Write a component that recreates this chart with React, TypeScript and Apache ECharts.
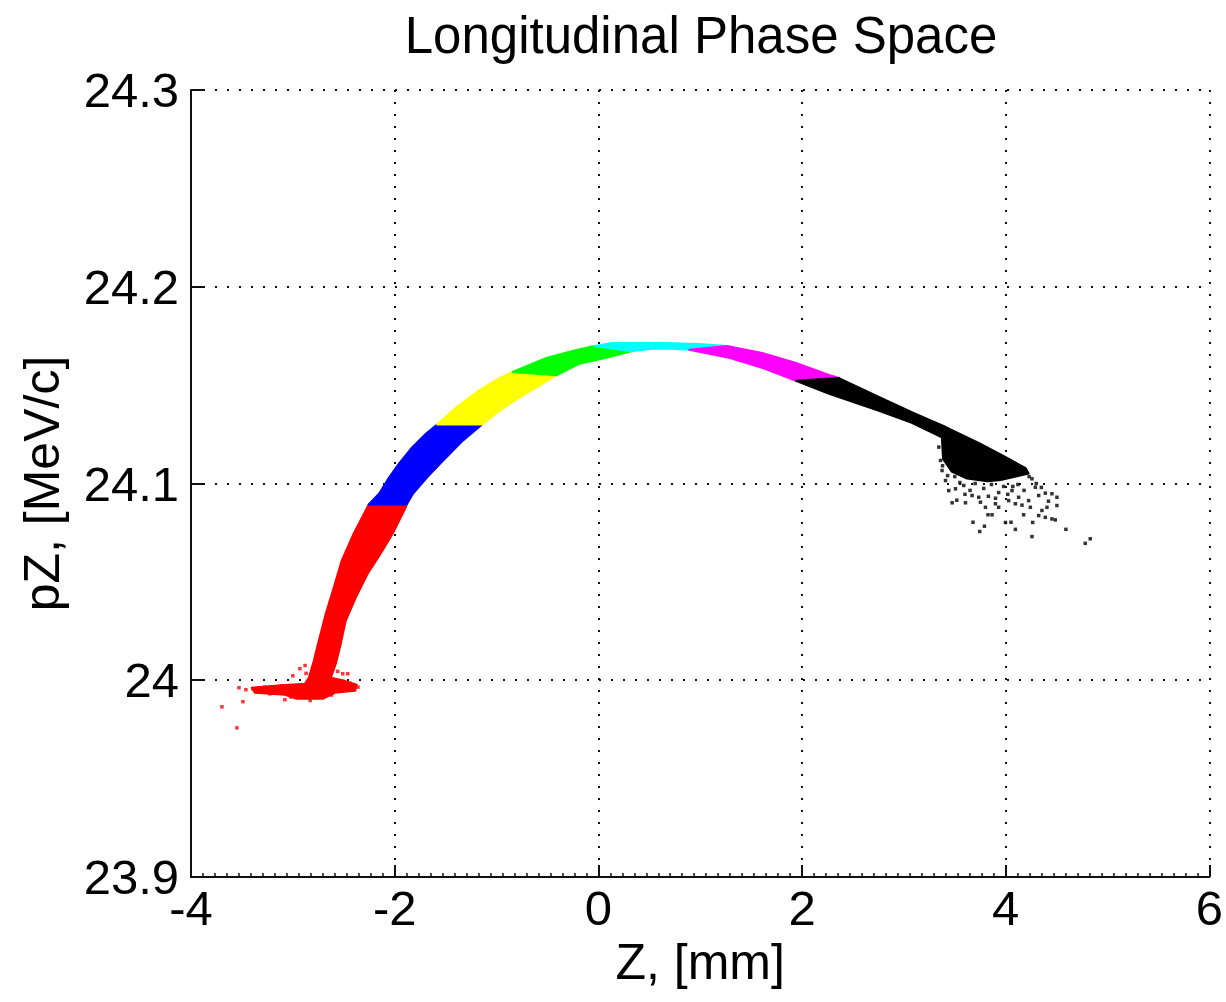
import React, { useEffect, useRef } from "react";
import * as echarts from "echarts";

const titleText = "Longitudinal Phase Space";
const xName = "Z, [mm]";
const yName = "pZ, [MeV/c]";
const xMin = -4;
const xMax = 6;
const xStep = 2;
const yMin = 23.9;
const yMax = 24.3;
const yStep = 0.1;

// Outlines of each coloured slice of the particle band, [Z mm, pZ MeV/c]
const redBand: [number, number][] = [
  [-2.843, 24.0013], [-2.794, 24.0099], [-2.745, 24.0201], [-2.677, 24.0338],
  [-2.598, 24.0471], [-2.52, 24.0608], [-2.402, 24.0746], [-2.255, 24.0893],
  [-1.882, 24.0893], [-1.892, 24.0878], [-2.019, 24.0746], [-2.137, 24.0644],
  [-2.265, 24.0542], [-2.382, 24.042], [-2.48, 24.0303], [-2.529, 24.0186],
  [-2.578, 24.0084], [-2.627, 24.0013], [-2.49, 23.9997], [-2.373, 23.9977],
  [-2.392, 23.9947], [-2.588, 23.9936], [-2.706, 23.9906], [-2.961, 23.9906],
  [-3.078, 23.9926], [-3.373, 23.9936], [-3.402, 23.9962], [-3.176, 23.9972],
  [-2.882, 23.9982],
];
const blueBand: [number, number][] = [
  [-2.255, 24.0893], [-2.152, 24.0949], [-2.054, 24.1031], [-1.956, 24.1102],
  [-1.829, 24.1183], [-1.691, 24.1254], [-1.583, 24.13], [-1.142, 24.13],
  [-1.328, 24.1219], [-1.524, 24.1117], [-1.681, 24.1031], [-1.819, 24.0949],
  [-1.882, 24.0893],
];
const yellowBand: [number, number][] = [
  [-1.583, 24.13], [-1.392, 24.1389], [-1.167, 24.1475], [-0.971, 24.1536],
  [-0.843, 24.1567], [-0.412, 24.155], [-0.745, 24.1446], [-0.971, 24.137],
  [-1.142, 24.13],
];
const greenBand: [number, number][] = [
  [-0.843, 24.1567], [-0.51, 24.1638], [-0.255, 24.1674], [-0.039, 24.1699],
  [0.324, 24.1672], [0.078, 24.1639], [-0.186, 24.1609], [-0.412, 24.155],
];
const cyanBand: [number, number][] = [
  [-0.039, 24.1699], [0.137, 24.1714], [0.627, 24.1714], [0.99, 24.1709],
  [1.265, 24.1699], [0.892, 24.168], [0.725, 24.1685], [0.529, 24.1685],
  [0.324, 24.1672],
];
const magentaBand: [number, number][] = [
  [1.265, 24.1699], [1.608, 24.1664], [1.941, 24.1613], [2.265, 24.1552],
  [2.363, 24.1536], [1.941, 24.1522], [1.608, 24.1588], [1.284, 24.1639],
  [0.892, 24.168],
];
const blackBand: [number, number][] = [
  [2.363, 24.1536], [2.755, 24.144], [3.078, 24.1363], [3.412, 24.1287],
  [3.735, 24.1206], [4.0, 24.1134], [4.196, 24.1078], [4.225, 24.1051],
  [4.1, 24.1035], [3.95, 24.1018], [3.82, 24.1012], [3.62, 24.1025],
  [3.47, 24.106], [3.385, 24.1125], [3.373, 24.1234], [3.078, 24.1308],
  [2.755, 24.137], [2.265, 24.1456], [1.941, 24.1522],
];

// Isolated particles
const redDots: [number, number][] = [
  [-3.696, 23.9865], [-3.549, 23.9758], [-3.529, 23.9962], [-3.49, 23.9891],
  [-3.461, 23.9952], [-3.078, 23.9901], [-2.931, 24.0059], [-3.0, 24.0023],
  [-2.51, 24.0033], [-2.392, 23.9952], [-2.461, 24.0033], [-2.539, 23.9982],
  [-3.304, 23.9947], [-3.225, 23.9931], [-3.176, 23.9941], [-3.392, 23.9957],
  [-3.275, 23.9965], [-3.113, 23.9972], [-2.88, 24.0075], [-2.44, 23.9985],
  [-2.36, 23.9965], [-2.62, 23.9925], [-2.83, 23.9897], [-3.02, 23.9915],
  [-2.87, 24.0035], [-2.56, 24.0045],
];
const blackDots: [number, number][] = [
  [3.474, 24.0902], [3.605, 24.0902], [3.679, 24.0803], [3.745, 24.0756],
  [3.791, 24.0783], [3.826, 24.0841], [3.866, 24.0841], [3.931, 24.0879],
  [3.997, 24.0802], [4.052, 24.0803], [4.095, 24.0767], [4.176, 24.0841],
  [4.242, 24.0879], [4.265, 24.0802], [4.258, 24.073], [4.356, 24.0863],
  [4.405, 24.0879], [4.454, 24.0948], [4.503, 24.093], [4.503, 24.0888],
  [4.454, 24.082], [4.487, 24.0815], [4.591, 24.0767], [4.781, 24.0696],
  [4.83, 24.0719], [4.389, 24.0951], [4.291, 24.0981], [4.258, 24.1024],
  [4.193, 24.107], [4.062, 24.0964], [4.127, 24.093], [4.029, 24.0913],
  [3.899, 24.0897], [3.735, 24.093], [3.67, 24.0939], [3.507, 24.0973],
  [3.409, 24.1015], [3.375, 24.1066], [3.36, 24.1117], [3.343, 24.1185],
  [3.801, 24.0879], [3.752, 24.0905], [4.095, 24.0897], [4.324, 24.0837],
  [4.389, 24.0828], [3.588, 24.099], [3.784, 24.0975], [3.931, 24.0954],
  [3.441, 24.0964], [4.324, 24.0939], [4.225, 24.0913], [3.55, 24.1005],
  [3.7, 24.1], [3.98, 24.0985], [4.12, 24.0995], [4.3, 24.1],
  [3.43, 24.104], [3.5, 24.1035], [3.65, 24.0965], [3.86, 24.0995],
  [4.02, 24.0945], [4.18, 24.0965], [4.35, 24.098], [4.23, 24.1035],
  [3.9, 24.0925], [3.6, 24.0945], [4.16, 24.089], [4.42, 24.091],
  [3.83, 24.0935], [4.07, 24.0985], [3.38, 24.109], [3.52, 24.0915],
];

const bands = [
  { name: "red", color: "#ff0000", points: redBand },
  { name: "blue", color: "#0000ff", points: blueBand },
  { name: "yellow", color: "#ffff00", points: yellowBand },
  { name: "green", color: "#00ff00", points: greenBand },
  { name: "cyan", color: "#00ffff", points: cyanBand },
  { name: "magenta", color: "#ff00ff", points: magentaBand },
  { name: "black", color: "#000000", points: blackBand },
];

const FONT = "'Liberation Sans', Arial, Helvetica, sans-serif";

export default function App() {
  const ref = useRef<HTMLDivElement>(null);
  useEffect(() => {
    document.body.style.margin = "0";
    if (!ref.current) return;
    const chart = echarts.init(ref.current, null, { renderer: "svg" });
    const bandSeries = bands.map((b) => ({
      type: "custom",
      name: b.name,
      data: b.points,
      encode: { x: 0, y: 1 },
      silent: true,
      z: 3,
      renderItem: (params: any, api: any) => {
        if (params.dataIndex !== 0) return null;
        const pts = b.points.map((p) => api.coord(p));
        return {
          type: "polygon",
          shape: { points: pts },
          style: { fill: b.color, stroke: b.color, lineWidth: 2, lineJoin: "round" },
        };
      },
    }));
    const option: any = {
      animation: false,
      backgroundColor: "#ffffff",
      title: {
        text: titleText,
        left: 696,
        textAlign: "center",
        top: 5,
        textStyle: { fontFamily: FONT, fontSize: 51, fontWeight: "normal", color: "#000" },
      },
      grid: { left: 191, right: 15, top: 90, bottom: 125 },
      xAxis: {
        type: "value",
        min: xMin,
        max: xMax,
        interval: xStep,
        name: xName,
        nameLocation: "middle",
        nameGap: 58,
        nameTextStyle: { fontFamily: FONT, fontSize: 50, color: "#000" },
        axisLine: { show: true, onZero: false, lineStyle: { color: "#111", width: 2 } },
        axisTick: { show: true, inside: true, length: 12, lineStyle: { color: "#111", width: 2 } },
        minorTick: { show: true, splitNumber: 17, length: 4, lineStyle: { color: "#111", width: 1.5 } },
        axisLabel: { fontFamily: FONT, fontSize: 49, color: "#000", margin: 6 },
        splitLine: { show: true, lineStyle: { color: "#111", width: 2, type: [2, 10] } },
      },
      yAxis: {
        type: "value",
        min: yMin,
        max: yMax,
        interval: yStep,
        name: yName,
        nameLocation: "middle",
        nameGap: 124,
        nameTextStyle: { fontFamily: FONT, fontSize: 50, color: "#000" },
        axisLine: { show: true, onZero: false, lineStyle: { color: "#111", width: 2 } },
        axisTick: { show: true, inside: true, length: 12, lineStyle: { color: "#111", width: 2 } },
        axisLabel: { fontFamily: FONT, fontSize: 49, color: "#000", margin: 12 },
        splitLine: { show: true, lineStyle: { color: "#111", width: 2, type: [2, 10] } },
      },
      series: [
        ...bandSeries,
        {
          type: "scatter",
          name: "red particles",
          data: redDots,
          symbol: "rect",
          symbolSize: 3.5,
          itemStyle: { color: "#ff0000" },
          silent: true,
          z: 4,
        },
        {
          type: "scatter",
          name: "black particles",
          data: blackDots,
          symbol: "rect",
          symbolSize: 3.5,
          itemStyle: { color: "#000000" },
          silent: true,
          z: 4,
        },
      ],
    };
    chart.setOption(option);
    return () => chart.dispose();
  }, []);
  return <div ref={ref} style={{ width: 1226, height: 1002 }} />;
}
